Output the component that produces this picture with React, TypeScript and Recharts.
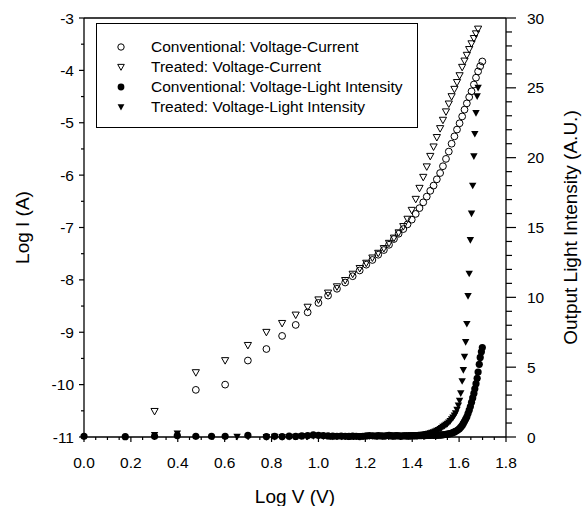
import { ComposedChart, ReferenceLine, Scatter, XAxis, YAxis } from "recharts";

// log10 of the bias voltage (V) and log10 of the current (A)
const convIvLogV = [
  0.477, 0.602, 0.699, 0.778, 0.845, 0.903, 0.954, 1.0, 1.041, 1.079,
  1.114, 1.146, 1.176, 1.204, 1.23, 1.255, 1.279, 1.301, 1.322, 1.342,
  1.362, 1.38, 1.398, 1.415, 1.431, 1.447, 1.462, 1.477, 1.491, 1.505,
  1.519, 1.531, 1.544, 1.556, 1.568, 1.58, 1.591, 1.602, 1.613, 1.623,
  1.633, 1.643, 1.653, 1.663, 1.672, 1.681, 1.69, 1.699,
];
const convIvLogI = [
  -10.1, -10.0, -9.54, -9.32, -9.07, -8.86, -8.62, -8.44, -8.3, -8.17,
  -8.05, -7.93, -7.82, -7.71, -7.62, -7.52, -7.43, -7.33, -7.22, -7.12,
  -7.03, -6.94, -6.85, -6.74, -6.63, -6.52, -6.41, -6.3, -6.2, -6.08,
  -5.96, -5.83, -5.69, -5.55, -5.4, -5.26, -5.13, -5.01, -4.88, -4.75,
  -4.63, -4.51, -4.4, -4.27, -4.14, -4.02, -3.92, -3.83,
];
const treatIvLogV = [
  0.301, 0.477, 0.602, 0.699, 0.778, 0.845, 0.903, 0.954, 1.0, 1.041,
  1.079, 1.114, 1.146, 1.176, 1.204, 1.23, 1.255, 1.279, 1.301, 1.322,
  1.342, 1.362, 1.38, 1.398, 1.415, 1.431, 1.447, 1.462, 1.477, 1.491,
  1.505, 1.519, 1.531, 1.544, 1.556, 1.568, 1.58, 1.591, 1.602, 1.613,
  1.623, 1.633, 1.643, 1.653, 1.663, 1.672, 1.681,
];
const treatIvLogI = [
  -10.51, -9.77, -9.54, -9.25, -9.0, -8.83, -8.67, -8.52, -8.38, -8.25,
  -8.13, -8.01, -7.89, -7.78, -7.68, -7.58, -7.49, -7.4, -7.3, -7.2,
  -7.1, -6.98, -6.84, -6.67, -6.46, -6.25, -6.04, -5.84, -5.64, -5.46,
  -5.28, -5.11, -4.95, -4.79, -4.64, -4.5, -4.36, -4.23, -4.1, -3.94,
  -3.82, -3.71, -3.6, -3.49, -3.39, -3.3, -3.21,
];

// log10 of the bias voltage (V) and output light (A.U.)
const convLightLogV = [
  0, 0.176, 0.301, 0.398, 0.477, 0.544, 0.602, 0.699, 0.778,
  0.813, 0.845, 0.875, 0.903, 0.929, 0.954, 0.978, 1.0, 1.021, 1.041,
  1.061, 1.079, 1.097, 1.114, 1.13, 1.146, 1.161, 1.176, 1.19, 1.204,
  1.217, 1.23, 1.243, 1.255, 1.267, 1.279, 1.29, 1.301, 1.312, 1.322,
  1.332, 1.342, 1.352, 1.362, 1.371, 1.38, 1.389, 1.398, 1.407, 1.415,
  1.423, 1.431, 1.439, 1.447, 1.455, 1.462, 1.47, 1.477, 1.484, 1.491,
  1.498, 1.505, 1.512, 1.519, 1.525, 1.531, 1.538, 1.544, 1.55, 1.556,
  1.562, 1.568, 1.574, 1.58, 1.585, 1.591, 1.597, 1.602, 1.607, 1.613,
  1.618, 1.623, 1.628, 1.633, 1.638, 1.643, 1.648, 1.653, 1.658, 1.663,
  1.667, 1.672, 1.677, 1.681, 1.686, 1.69, 1.695, 1.699,
];
const convLightOut = [
  0.05, 0.02, 0.05, 0.1, 0.05, 0.05, 0.05, 0.12, 0.03,
  0.05, 0.03, 0.06, 0.04, 0.08, 0.1, 0.15, 0.12, 0.1, 0.08,
  0.06, 0.05, 0.07, 0.05, 0.04, 0.06, 0.05, 0.03, 0.05, 0.08,
  0.1, 0.09, 0.07, 0.1, 0.08, 0.06, 0.09, 0.11, 0.08, 0.06,
  0.1, 0.08, 0.05, 0.07, 0.09, 0.06, 0.08, 0.07, 0.09, 0.08,
  0.1, 0.09, 0.1, 0.11, 0.1, 0.12, 0.11, 0.12, 0.13, 0.12,
  0.13, 0.12, 0.13, 0.14, 0.15, 0.16, 0.18, 0.19, 0.2, 0.22,
  0.25, 0.28, 0.32, 0.36, 0.41, 0.46, 0.53, 0.6, 0.7, 0.83,
  0.97, 1.12, 1.28, 1.45, 1.68, 1.92, 2.18, 2.48, 2.8, 3.12,
  3.45, 3.82, 4.2, 4.65, 5.2, 5.7, 6.1, 6.4,
];
const treatLightLogV = [
  0.301, 0.398, 0.653, 0.778,
  0.813, 0.845, 0.875, 0.903, 0.929, 0.954, 0.978, 1.0, 1.021, 1.041,
  1.061, 1.079, 1.097, 1.114, 1.13, 1.146, 1.161, 1.176, 1.19, 1.204,
  1.217, 1.23, 1.243, 1.255, 1.267, 1.279, 1.29, 1.301, 1.312, 1.322,
  1.332, 1.342, 1.352, 1.362, 1.371, 1.38, 1.389, 1.398, 1.407, 1.415,
  1.423, 1.431, 1.439, 1.447, 1.455, 1.462, 1.47, 1.477, 1.484, 1.491,
  1.498, 1.505, 1.512, 1.519, 1.525, 1.531, 1.538, 1.544, 1.55, 1.556,
  1.562, 1.568, 1.574, 1.58, 1.585, 1.591, 1.597, 1.602, 1.607, 1.613,
  1.618, 1.623, 1.628, 1.633, 1.638, 1.643, 1.648, 1.653, 1.658, 1.663,
  1.667, 1.672, 1.677, 1.681,
];
const treatLightOut = [
  0.15, 0.25, 0.02, 0.0,
  0.02, 0.0, 0.01, 0.02, 0.05, 0.03, 0.06, 0.1, 0.05, 0.07,
  0.04, 0.06, 0.03, 0.05, 0.04, 0.06, 0.05, 0.07, 0.05, 0.08,
  0.06, 0.07, 0.09, 0.07, 0.08, 0.1, 0.08, 0.11, 0.09, 0.1,
  0.09, 0.1, 0.09, 0.1, 0.11, 0.1, 0.11, 0.12, 0.12, 0.13,
  0.14, 0.15, 0.16, 0.17, 0.19, 0.21, 0.24, 0.27, 0.3, 0.35,
  0.4, 0.45, 0.5, 0.57, 0.65, 0.73, 0.8, 0.88, 0.95, 1.05,
  1.15, 1.28, 1.4, 1.55, 1.7, 1.95, 2.25, 2.6, 3.13, 4.0,
  4.8, 5.75, 6.8, 8.1, 10.1, 11.7, 14.1, 16.0, 18.0, 20.1,
  21.7, 23.2, 24.4, 25.0,
];

const xMajorTicks = [0, 0.2, 0.4, 0.6, 0.8, 1.0, 1.2, 1.4, 1.6, 1.8];
const xTicks = [
  0, 0.05, 0.1, 0.15, 0.2, 0.25, 0.3, 0.35, 0.4, 0.45, 0.5, 0.55, 0.6, 0.65, 0.7, 0.75, 0.8, 0.85, 0.9,
  0.95, 1.0, 1.05, 1.1, 1.15, 1.2, 1.25, 1.3, 1.35, 1.4, 1.45, 1.5, 1.55, 1.6, 1.65, 1.7, 1.75, 1.8,
];
const leftMajorTicks = [-11, -10, -9, -8, -7, -6, -5, -4, -3];
const leftTicks = [-11, -10.5, -10, -9.5, -9, -8.5, -8, -7.5, -7, -6.5, -6, -5.5, -5, -4.5, -4, -3.5, -3];
const rightMajorTicks = [0, 5, 10, 15, 20, 25, 30];
const rightTicks = [
  0, 1, 2, 3, 4, 5, 6, 7, 8, 9, 10, 11, 12, 13, 14, 15, 16, 17, 18, 19, 20, 21, 22, 23, 24, 25, 26, 27, 28, 29, 30,
];

const legendLabels = [
  "Conventional: Voltage-Current",
  "Treated: Voltage-Current",
  "Conventional: Voltage-Light Intensity",
  "Treated: Voltage-Light Intensity",
];

const FONT = '"Liberation Sans", Arial, Helvetica, sans-serif';
const INK = "#000";

const zip = (xs: number[], ys: number[]) => xs.map((x, i) => ({ x, y: ys[i] }));
const isMajor = (v: number, majors: number[]) => majors.some((m) => Math.abs(m - v) < 1e-6);

const OpenCircle = ({ cx, cy }: any) => (
  <circle cx={cx} cy={cy} r={3.4} fill="none" stroke={INK} strokeWidth={1} />
);
const FilledCircle = ({ cx, cy }: any) => <circle cx={cx} cy={cy} r={3.6} fill={INK} />;
const downTriangle = (cx: number, cy: number, s: number) =>
  `M${cx - s},${cy - s * 0.8}L${cx + s},${cy - s * 0.8}L${cx},${cy + s}Z`;
const OpenTriangle = ({ cx, cy }: any) => (
  <path d={downTriangle(cx, cy, 3.6)} fill="none" stroke={INK} strokeWidth={1} />
);
const FilledTriangle = ({ cx, cy }: any) => <path d={downTriangle(cx, cy, 3.7)} fill={INK} />;

function BottomTick({ x, y, payload }: any) {
  const major = isMajor(payload.value, xMajorTicks);
  return (
    <g>
      <line x1={x} x2={x} y1={y} y2={y + (major ? 5 : 3)} stroke={INK} strokeWidth={1.2} />
      {major && (
        <text x={x} y={y + 25} textAnchor="middle" dominantBaseline="central" fontSize={15.5} fill={INK}>
          {payload.value.toFixed(1)}
        </text>
      )}
    </g>
  );
}

function LeftTick({ x, y, payload }: any) {
  const major = isMajor(payload.value, leftMajorTicks);
  return (
    <g>
      <line x1={x} x2={x - (major ? 5 : 3)} y1={y} y2={y} stroke={INK} strokeWidth={1.2} />
      {major && (
        <text x={x - 10} y={y} textAnchor="end" dominantBaseline="central" fontSize={15.5} fill={INK}>
          {payload.value}
        </text>
      )}
    </g>
  );
}

function RightTick({ x, y, payload }: any) {
  const major = isMajor(payload.value, rightMajorTicks);
  return (
    <g>
      <line x1={x} x2={x + (major ? 10 : 6)} y1={y} y2={y} stroke={INK} strokeWidth={1.2} />
      {major && (
        <text x={x + 21} y={y} textAnchor="start" dominantBaseline="central" fontSize={15.5} fill={INK}>
          {payload.value}
        </text>
      )}
    </g>
  );
}

const rotatedTitle = (text: string, dx: number) => ({ viewBox }: any) => {
  const cx = viewBox.x + dx;
  const cy = viewBox.y + viewBox.height / 2;
  return (
    <text
      x={cx}
      y={cy}
      transform={`rotate(-90 ${cx} ${cy})`}
      textAnchor="middle"
      dominantBaseline="central"
      fontSize={19}
      fill={INK}
    >
      {text}
    </text>
  );
};

const bottomTitle = ({ viewBox }: any) => (
  <text
    x={viewBox.x + viewBox.width / 2}
    y={viewBox.y + 59}
    textAnchor="middle"
    dominantBaseline="central"
    fontSize={19}
    fill={INK}
  >
    Log V (V)
  </text>
);

const legendGlyphs = [
  <circle cx={7} cy={7} r={3.2} fill="none" stroke={INK} strokeWidth={1} />,
  <path d={downTriangle(7, 7, 3.3)} fill="none" stroke={INK} strokeWidth={1} />,
  <circle cx={7} cy={7} r={3.4} fill={INK} />,
  <path d={downTriangle(7, 7, 3.4)} fill={INK} />,
];

export default function App() {
  return (
    <div
      style={{
        position: "absolute",
        left: 0,
        top: 0,
        width: 584,
        height: 506,
        background: "#fff",
        fontFamily: FONT,
      }}
    >
      <ComposedChart width={584} height={506} margin={{ top: 18, right: 0, bottom: 0, left: 0 }}>
        <XAxis
          type="number"
          dataKey="x"
          domain={[0, 1.8]}
          ticks={xTicks}
          interval={0}
          tickSize={0}
          tickMargin={0}
          height={69}
          axisLine={{ stroke: INK, strokeWidth: 1.3 }}
          tickLine={false}
          tick={<BottomTick />}
          label={bottomTitle}
        />
        <YAxis
          yAxisId="left"
          type="number"
          dataKey="y"
          domain={[-11, -3]}
          ticks={leftTicks}
          interval={0}
          tickSize={0}
          tickMargin={0}
          width={84}
          axisLine={{ stroke: INK, strokeWidth: 1.3 }}
          tickLine={false}
          tick={<LeftTick />}
          label={rotatedTitle("Log I (A)", 22)}
        />
        <YAxis
          yAxisId="right"
          orientation="right"
          type="number"
          dataKey="y"
          domain={[0, 30]}
          ticks={rightTicks}
          interval={0}
          tickSize={0}
          tickMargin={0}
          width={78}
          axisLine={{ stroke: INK, strokeWidth: 1.3 }}
          tickLine={false}
          tick={<RightTick />}
          label={rotatedTitle("Output Light Intensity (A.U.)", 64)}
        />
        <ReferenceLine yAxisId="left" y={-3} stroke={INK} strokeWidth={1.3} />
        <Scatter
          yAxisId="left"
          dataKey="y"
          data={zip(convIvLogV, convIvLogI)}
          shape={OpenCircle}
          isAnimationActive={false}
        />
        <Scatter
          yAxisId="left"
          dataKey="y"
          data={zip(treatIvLogV, treatIvLogI)}
          shape={OpenTriangle}
          isAnimationActive={false}
        />
        <Scatter
          yAxisId="right"
          dataKey="y"
          data={zip(convLightLogV, convLightOut)}
          shape={FilledCircle}
          isAnimationActive={false}
        />
        <Scatter
          yAxisId="right"
          dataKey="y"
          data={zip(treatLightLogV, treatLightOut)}
          shape={FilledTriangle}
          isAnimationActive={false}
        />
      </ComposedChart>
      <div
        style={{
          position: "absolute",
          left: 96,
          top: 23,
          width: 322,
          height: 105,
          boxSizing: "border-box",
          border: `1.3px solid ${INK}`,
          background: "#fff",
          fontSize: 15.5,
          color: INK,
        }}
      >
        {legendLabels.map((label, i) => (
          <div
            key={label}
            style={{
              position: "absolute",
              left: 0,
              top: 13 + i * 20,
              height: 20,
              lineHeight: "20px",
              whiteSpace: "nowrap",
            }}
          >
            <svg width={14} height={14} style={{ position: "absolute", left: 17, top: 3 }}>
              {legendGlyphs[i]}
            </svg>
            <span style={{ position: "absolute", left: 54 }}>{label}</span>
          </div>
        ))}
      </div>
    </div>
  );
}
